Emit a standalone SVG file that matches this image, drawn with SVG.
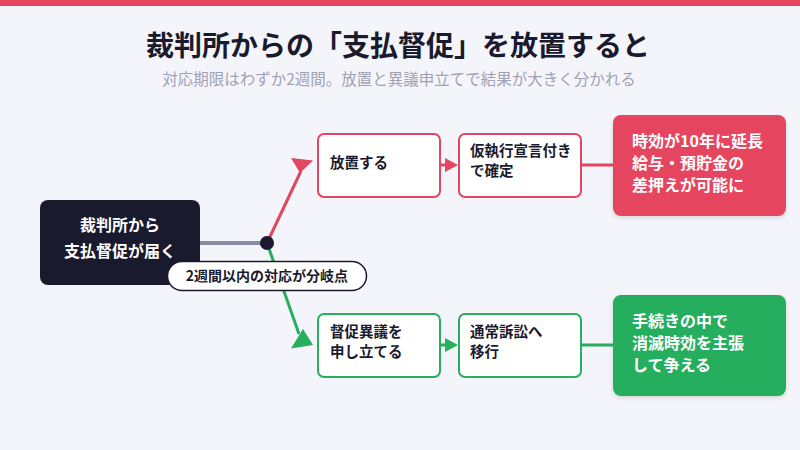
<svg xmlns="http://www.w3.org/2000/svg" width="800" height="450" viewBox="0 0 800 450">
<defs>
<style>
text{font-family:"Noto Sans CJK JP","Noto Sans",sans-serif;}
.title{font-size:28px;font-weight:700;fill:#1a1a2e;}
.sub{font-size:15.5px;fill:#a0a2b4;}
.box-r{fill:#ffffff;stroke:#e2475f;stroke-width:2;}
.box-g{fill:#ffffff;stroke:#27ae5f;stroke-width:2;}
.bt{font-size:14.5px;font-weight:600;fill:#1a1a2e;}
.rt{font-size:16px;font-weight:700;fill:#ffffff;}
.lr{stroke:#e2475f;stroke-width:3;fill:none;}
.lg{stroke:#27ae5f;stroke-width:3;fill:none;}
</style>
<filter id="sh" x="-10%" y="-10%" width="120%" height="130%">
<feDropShadow dx="0" dy="2" stdDeviation="2" flood-color="#000" flood-opacity="0.12"/>
</filter>
</defs>
<rect x="0" y="0" width="800" height="450" fill="#f4f5fa"/>
<rect x="0" y="0" width="800" height="6" fill="#e6455f"/>
<text class="title" x="398" y="56" text-anchor="middle">裁判所からの「支払督促」を放置すると</text>
<text class="sub" x="399" y="85" text-anchor="middle">対応期限はわずか2週間。放置と異議申立てで結果が大きく分かれる</text>

<g id="connectors">
<line x1="200" y1="243" x2="267" y2="243" stroke="#8a8ca3" stroke-width="4"/>
<line class="lr" x1="267" y1="243" x2="301" y2="171"/>
<polygon points="291,158 313,160.5 300,173" fill="#e2475f"/>
<line class="lg" x1="267" y1="243" x2="299" y2="334"/>
<polygon points="303,329 313,345 291,348.5" fill="#27ae5f"/>
<circle cx="267" cy="243" r="7" fill="#1a1a2e"/>
<line class="lr" x1="440" y1="165" x2="447" y2="165"/>
<polygon points="445,158 458,165 445,172" fill="#e2475f"/>
<line class="lr" x1="581" y1="165" x2="614" y2="165"/>
<line class="lg" x1="440" y1="345" x2="447" y2="345"/>
<polygon points="445,338 458,345 445,352" fill="#27ae5f"/>
<line class="lg" x1="581" y1="345" x2="614" y2="345"/>
</g>

<g id="start">
<rect x="40" y="200" width="160" height="85" rx="8" fill="#1a1a2e"/>
<text class="rt" x="120" y="231" text-anchor="middle">裁判所から</text>
<text class="rt" x="120" y="257" text-anchor="middle">支払督促が届く</text>
</g>

<g id="label">
<rect x="167.5" y="261.5" width="199" height="29" rx="14.5" fill="#ffffff" stroke="#1a1a2e" stroke-width="1.5"/>
<text x="267" y="281" text-anchor="middle" style="font-size:14px;font-weight:700;fill:#1a1a2e">2週間以内の対応が分岐点</text>
</g>

<g id="neglect">
<rect class="box-r" x="318" y="134" width="122" height="63" rx="6"/>
<text class="bt" x="330" y="168">放置する</text>
</g>
<g id="confirm">
<rect class="box-r" x="459" y="134" width="122" height="63" rx="6"/>
<text class="bt" x="470" y="156">仮執行宣言付き</text>
<text class="bt" x="470" y="176">で確定</text>
</g>
<g id="result-red">
<rect x="613" y="115" width="173" height="101" rx="8" fill="#e6455f" filter="url(#sh)"/>
<text class="rt" x="632" y="147">時効が10年に延長</text>
<text class="rt" x="632" y="169">給与・預貯金の</text>
<text class="rt" x="632" y="191">差押えが可能に</text>
</g>

<g id="objection">
<rect class="box-g" x="318" y="314" width="122" height="63" rx="6"/>
<text class="bt" x="330" y="337">督促異議を</text>
<text class="bt" x="330" y="357">申し立てる</text>
</g>
<g id="lawsuit">
<rect class="box-g" x="459" y="314" width="122" height="63" rx="6"/>
<text class="bt" x="470" y="337">通常訴訟へ</text>
<text class="bt" x="470" y="357">移行</text>
</g>
<g id="result-green">
<rect x="613" y="295" width="173" height="101" rx="8" fill="#27ae5f" filter="url(#sh)"/>
<text class="rt" x="632" y="327">手続きの中で</text>
<text class="rt" x="632" y="349">消滅時効を主張</text>
<text class="rt" x="632" y="371">して争える</text>
</g>
</svg>
